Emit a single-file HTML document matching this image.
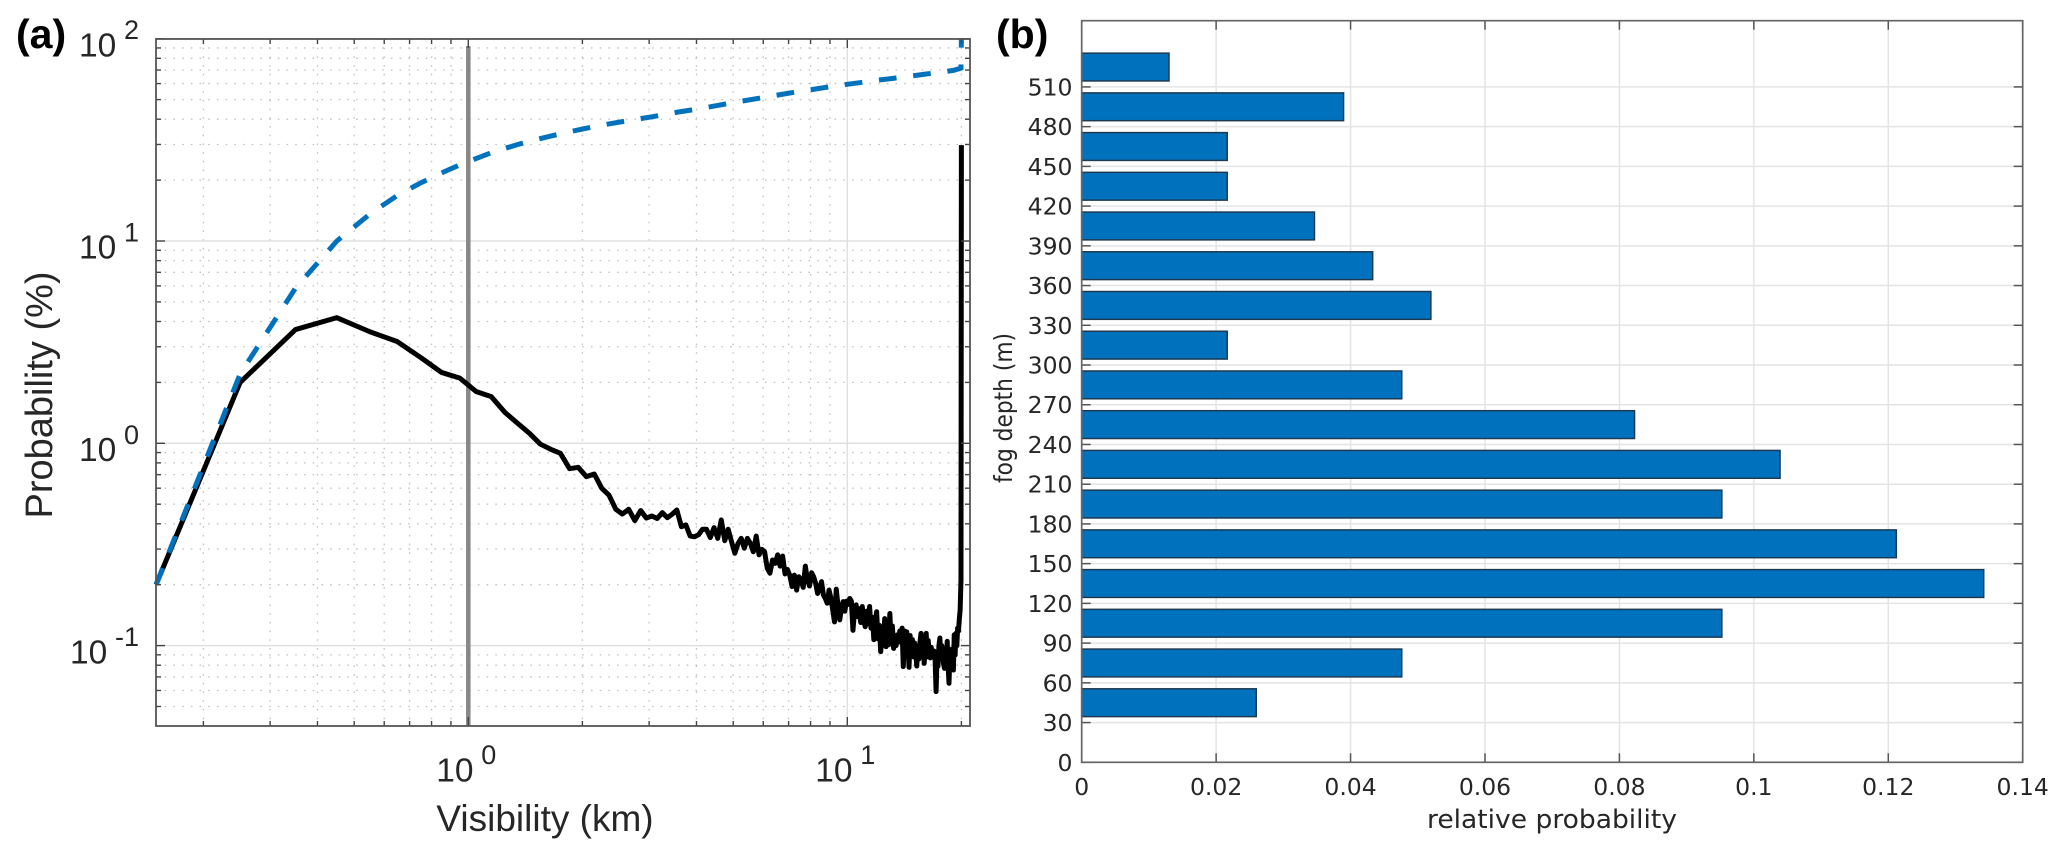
<!DOCTYPE html>
<html>
<head>
<meta charset="utf-8">
<title>Visibility probability and fog depth</title>
<style>
html,body{margin:0;padding:0;background:#fff;width:2067px;height:853px;overflow:hidden}
svg{display:block}
.a{font-family:"Liberation Sans",sans-serif;fill:#262626}
.b{font-family:"DejaVu Sans",sans-serif;fill:#262626}
</style>
</head>
<body>
<svg id="fig" xmlns="http://www.w3.org/2000/svg" width="2067" height="853" viewBox="0 0 2067 853">
  <rect x="0" y="0" width="2067" height="853" fill="#fff"/>
  <g id="panelA"></g>
  <g id="panelB"></g>
  <text class="a" x="16" y="48" font-size="41" font-weight="bold" style="fill:#000">(a)</text>
  <text class="a" x="996" y="48" font-size="41" font-weight="bold" style="fill:#000">(b)</text>
  <text class="a" transform="translate(52 395) rotate(-90)" font-size="38" text-anchor="middle">Probability (%)</text>
  <text class="a" x="545" y="831" font-size="37" text-anchor="middle">Visibility (km)</text>
  <text class="b" transform="translate(1012 483) rotate(-90)" font-size="25" textLength="150" lengthAdjust="spacingAndGlyphs">fog depth (m)</text>
  <text class="b" x="1427" y="828" font-size="26" textLength="250" lengthAdjust="spacingAndGlyphs">relative probability</text>
</svg>
<script>
// ---- Panel (a) data ----
const blackVisibility = [
  0.15,0.25,0.35,0.45,0.55,0.65,0.75,0.85,0.95,1.05,
  1.15,1.25,1.35,1.45,1.55,1.65,1.75,1.85,1.95,2.05,
  2.15,2.25,2.35,2.45,2.55,2.65,2.75,2.85,2.95,3.05,
  3.15,3.25,3.35,3.45,3.55,3.65,3.75,3.85,3.95,4.05,
  4.15,4.25,4.35,4.45,4.55,4.65,4.75,4.85,4.95,5.05,
  5.15,5.25,5.35,5.45,5.55,5.65,5.75,5.85,5.95,6.05,
  6.15,6.25,6.35,6.45,6.55,6.65,6.75,6.85,6.95,7.05,
  7.15,7.25,7.35,7.45,7.55,7.65,7.75,7.85,7.95,8.05,
  8.15,8.25,8.35,8.45,8.55,8.65,8.75,8.85,8.95,9.05,
  9.15,9.25,9.35,9.45,9.55,9.65,9.75,9.85,9.95,10.05,
  10.15,10.25,10.35,10.45,10.55,10.65,10.75,10.85,10.95,11.05,
  11.15,11.25,11.35,11.45,11.55,11.65,11.75,11.85,11.95,12.05,
  12.15,12.25,12.35,12.45,12.55,12.65,12.75,12.85,12.95,13.05,
  13.15,13.25,13.35,13.45,13.55,13.65,13.75,13.85,13.95,14.05,
  14.15,14.25,14.35,14.45,14.55,14.65,14.75,14.85,14.95,15.05,
  15.15,15.25,15.35,15.45,15.55,15.65,15.75,15.85,15.95,16.05,
  16.15,16.25,16.35,16.45,16.55,16.65,16.75,16.85,16.95,17.05,
  17.15,17.25,17.35,17.45,17.55,17.65,17.75,17.85,17.95,18.05,
  18.15,18.25,18.35,18.45,18.55,18.65,18.75,18.85,18.95,19.05,
  19.15,19.25,19.35,19.45,19.55,19.65,19.75,19.85,19.95,20.0
];
const blackProbability = [
  0.2,2.0,3.65,4.18,3.56,3.18,2.65,2.24,2.10,1.80,
  1.70,1.42,1.255,1.12,0.99,0.934,0.892,0.749,0.761,0.684,
  0.705,0.599,0.555,0.472,0.447,0.472,0.415,0.465,0.427,0.437,
  0.425,0.454,0.429,0.446,0.468,0.387,0.395,0.348,0.345,0.353,
  0.376,0.376,0.342,0.383,0.339,0.418,0.330,0.376,0.326,0.286,
  0.320,0.339,0.303,0.339,0.320,0.291,0.348,0.281,0.299,0.291,
  0.241,0.228,0.265,0.255,0.281,0.247,0.277,0.226,0.238,0.223,
  0.196,0.223,0.188,0.219,0.211,0.194,0.247,0.211,0.197,0.229,
  0.219,0.203,0.181,0.192,0.207,0.178,0.171,0.162,0.188,0.172,
  0.151,0.131,0.190,0.158,0.134,0.152,0.165,0.148,0.166,0.160,
  0.171,0.166,0.119,0.148,0.159,0.139,0.152,0.130,0.156,0.134,
  0.124,0.148,0.128,0.156,0.122,0.138,0.107,0.131,0.147,0.108,
  0.126,0.0933,0.112,0.102,0.136,0.0988,0.121,0.101,0.144,0.104,
  0.125,0.0969,0.108,0.100,0.113,0.104,0.118,0.109,0.122,0.0787,
  0.118,0.094,0.117,0.101,0.0781,0.112,0.091,0.107,0.088,0.103,
  0.095,0.0793,0.098,0.086,0.104,0.115,0.090,0.110,0.0817,0.096,
  0.115,0.088,0.106,0.094,0.087,0.098,0.0916,0.088,0.094,0.084,
  0.0592,0.088,0.079,0.100,0.109,0.086,0.100,0.092,0.081,0.0772,
  0.094,0.085,0.105,0.080,0.0651,0.090,0.079,0.096,0.083,0.0757,
  0.113,0.090,0.115,0.100,0.122,0.118,0.135,0.150,0.211,29.8
];
const blueVisibility = [
  0.15,0.25,0.35,0.45,0.55,0.65,0.75,0.85,0.95,1.05,
  1.15,1.25,1.35,1.45,1.55,1.75,1.95,2.25,2.55,3.05,
  3.55,4.05,4.55,5.05,6.05,7.05,8.05,9.05,10.05,11.05,
  12.05,13.05,14.05,15.05,16.05,17.05,18.05,19.05,19.95,20.0
];
const blueCumulative = [
  0.2,2.2,5.85,10.0,13.6,16.8,19.4,21.7,23.8,25.6,
  27.3,28.7,30.0,31.1,32.1,33.9,35.4,37.4,38.9,41.1,
  43.3,45.0,46.8,48.5,51.3,53.9,56.0,58.0,59.6,61.0,
  62.4,63.5,64.7,65.7,66.8,67.8,68.7,69.7,71.5,100
];
const thresholdVisibility = [1, 1];
const thresholdProbability = [0.04, 92];
const xMajorA = [1, 10];
const xMinorA = [0.2,0.3,0.4,0.5,0.6,0.7,0.8,0.9,2,3,4,5,6,7,8,9,20];
const yMajorA = [0.1, 1, 10, 100];
const yMinorA = [0.05,0.06,0.07,0.08,0.09,0.2,0.3,0.4,0.5,0.6,0.7,0.8,0.9,2,3,4,5,6,7,8,9,20,30,40,50,60,70,80,90];
const yExponents = ["-1", "0", "1", "2"];
const xExponents = ["0", "1"];

// ---- Panel (b) data ----
const fogDepths = [45,75,105,135,165,195,225,255,285,315,345,375,405,435,465,495,525];
const relativeProbability = [0.02597,0.04762,0.09524,0.1342,0.1212,0.09524,0.1039,0.08225,0.04762,0.02165,0.05195,0.04329,0.03463,0.02165,0.02165,0.03896,0.01299];
const yTicksB = [0,30,60,90,120,150,180,210,240,270,300,330,360,390,420,450,480,510];
const xTicksB = [0,0.02,0.04,0.06,0.08,0.1,0.12,0.14];

const NS = 'http://www.w3.org/2000/svg';
function mk(parent, tag, attrs) {
  const el = document.createElementNS(NS, tag);
  for (const k in attrs) el.setAttribute(k, attrs[k]);
  parent.appendChild(el);
  return el;
}

// ---- Panel (a) axes ----
const A = {l:156, r:970, t:39, b:726};
function xA(v) { return 468.3 + 379 * Math.log10(v); }
function yA(v) { return 443.3 - 202.3 * Math.log10(v); }
const panelA = document.getElementById('panelA');

xMinorA.forEach(function (v) {
  const el = mk(panelA, 'line', {x1:xA(v), x2:xA(v), y1:A.t, y2:A.b, stroke:'#c2c2c2', 'stroke-width':1.3, 'stroke-dasharray':'1.6 7.1'});
  
  
});
yMinorA.forEach(function (v) {
  const el = mk(panelA, 'line', {x1:A.l, x2:A.r, y1:yA(v), y2:yA(v), stroke:'#c2c2c2', 'stroke-width':1.3, 'stroke-dasharray':'1.6 7.1'});
  
  
});
xMajorA.forEach(function (v) {
  const el = mk(panelA, 'line', {x1:xA(v), x2:xA(v), y1:A.t, y2:A.b, stroke:'#e0e0e0', 'stroke-width':1.5});
  
  
});
yMajorA.forEach(function (v) {
  const el = mk(panelA, 'line', {x1:A.l, x2:A.r, y1:yA(v), y2:yA(v), stroke:'#e0e0e0', 'stroke-width':1.5});
  
  
});

function pointsFrom(xs, ys) {
  return xs.map(function (x, i) { return xA(x).toFixed(2) + ',' + yA(ys[i]).toFixed(2); }).join(' ');
}
const thresholdLine = mk(panelA, 'polyline', {points:pointsFrom(thresholdVisibility, thresholdProbability), fill:'none', stroke:'#878787', 'stroke-width':4.5});


const blackLine = mk(panelA, 'polyline', {points:pointsFrom(blackVisibility, blackProbability), fill:'none', stroke:'#000', 'stroke-width':5, 'stroke-linejoin':'round'});


const blueLine = mk(panelA, 'polyline', {points:pointsFrom(blueVisibility, blueCumulative), fill:'none', stroke:'#0072BD', 'stroke-width':5});


// dash period tuned so the path ends part-way through a dash, as in the reference
const blueLength = blueLine.getTotalLength();
const bluePeriod = (blueLength - 9) / Math.round((blueLength - 9) / 35);
blueLine.setAttribute('stroke-dasharray', (bluePeriod / 2 + 0.5) + ' ' + (bluePeriod / 2 - 0.5));

function tickA(x1, y1, x2, y2) {
  const el = mk(panelA, 'line', {x1:x1, y1:y1, x2:x2, y2:y2, stroke:'#444', 'stroke-width':1.4});
  
  
}
xMajorA.forEach(function (v) { tickA(xA(v), A.b, xA(v), A.b - 9); tickA(xA(v), A.t, xA(v), A.t + 9); });
xMinorA.forEach(function (v) { tickA(xA(v), A.b, xA(v), A.b - 5); tickA(xA(v), A.t, xA(v), A.t + 5); });
yMajorA.forEach(function (v) { tickA(A.l, yA(v), A.l + 9, yA(v)); tickA(A.r, yA(v), A.r - 9, yA(v)); });
yMinorA.forEach(function (v) { tickA(A.l, yA(v), A.l + 5, yA(v)); tickA(A.r, yA(v), A.r - 5, yA(v)); });

const boxA = mk(panelA, 'rect', {x:A.l, y:A.t, width:A.r - A.l, height:A.b - A.t, fill:'none', stroke:'#555', 'stroke-width':1.8});



yMajorA.forEach(function (v, i) {
  const neg = yExponents[i].length > 1;
  const base = mk(panelA, 'text', {class:'a', x:neg ? 70 : 79, y:yA(v) + 17.7, 'font-size':33.5});
  base.textContent = '10';
  
  
  const exp = mk(panelA, 'text', {class:'a', x:neg ? 115 : 124, y:yA(v) + 0.5, 'font-size':27});
  exp.textContent = yExponents[i];
  
  
});
xMajorA.forEach(function (v, i) {
  const base = mk(panelA, 'text', {class:'a', x:xA(v) - 32, y:781.7, 'font-size':33.5});
  base.textContent = '10';
  
  
  const exp = mk(panelA, 'text', {class:'a', x:xA(v) + 13, y:764, 'font-size':27});
  exp.textContent = xExponents[i];
  
  
});

// ---- Panel (b) axes ----
const B = {l:1081.7, r:2022.7, t:20.7, b:762.3};
function xB(v) { return B.l + (B.r - B.l) * v / 0.14; }
function yB(v) { return B.b - (B.b - B.t) * v / 560; }
const panelB = document.getElementById('panelB');

xTicksB.forEach(function (v) {
  const el = mk(panelB, 'line', {x1:xB(v), x2:xB(v), y1:B.t, y2:B.b, stroke:'#e4e4e4', 'stroke-width':1.5});
  
  
});
yTicksB.forEach(function (v) {
  const el = mk(panelB, 'line', {x1:B.l, x2:B.r, y1:yB(v), y2:yB(v), stroke:'#e4e4e4', 'stroke-width':1.5});
  
  
});
fogDepths.forEach(function (d, i) {
  const top = yB(d + 10.5);
  const bottom = yB(d - 10.5);
  const el = mk(panelB, 'rect', {x:xB(0), y:top, width:xB(relativeProbability[i]) - xB(0), height:bottom - top, fill:'#0072BD', stroke:'#1d3a52', 'stroke-width':1.5});
  
  
});
function tickB(x1, y1, x2, y2) {
  const el = mk(panelB, 'line', {x1:x1, y1:y1, x2:x2, y2:y2, stroke:'#555', 'stroke-width':1.5});
  
  
}
xTicksB.forEach(function (v) {
  tickB(xB(v), B.b, xB(v), B.b - 9);
  tickB(xB(v), B.t, xB(v), B.t + 9);
  const t = mk(panelB, 'text', {class:'b', x:xB(v), y:795, 'font-size':23.5, 'text-anchor':'middle'});
  t.textContent = String(v);
  
  
});
yTicksB.forEach(function (v) {
  tickB(B.l, yB(v), B.l + 9, yB(v));
  tickB(B.r, yB(v), B.r - 9, yB(v));
  const t = mk(panelB, 'text', {class:'b', x:1072.5, y:yB(v) + 8.5, 'font-size':23.5, 'text-anchor':'end'});
  t.textContent = String(v);
  
  
});
const boxB = mk(panelB, 'rect', {x:B.l, y:B.t, width:B.r - B.l, height:B.b - B.t, fill:'none', stroke:'#666', 'stroke-width':1.7});


</script>
</body>
</html>
